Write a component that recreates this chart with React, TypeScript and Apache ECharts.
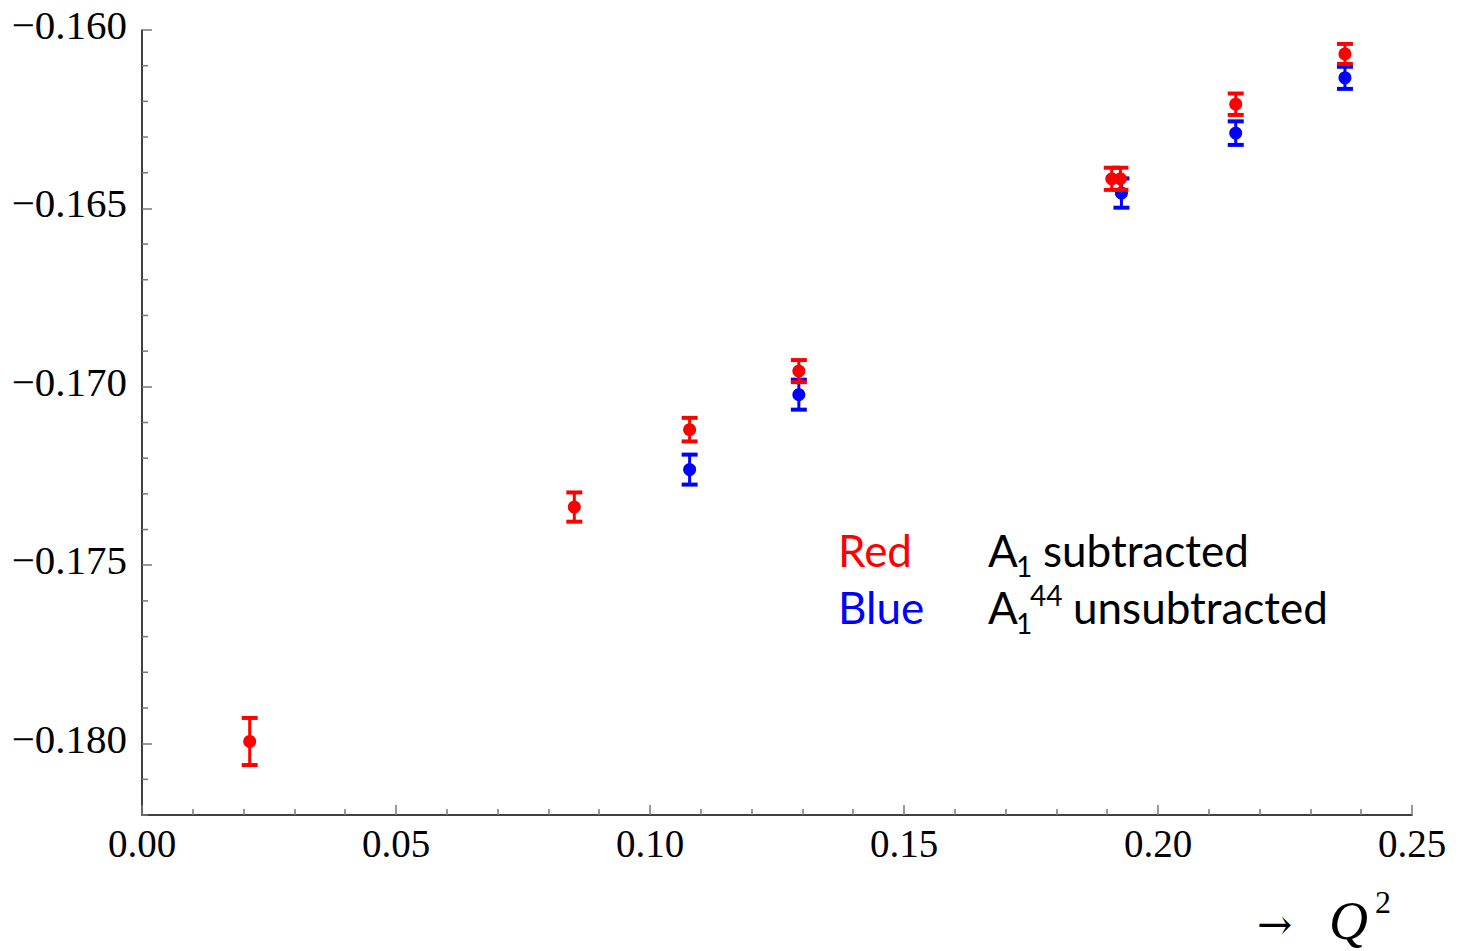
import React, { useEffect, useRef } from "react";
import * as echarts from "echarts";

// Red: A1 subtracted
const redX = [0.0212, 0.0851, 0.1078, 0.1293, 0.1909, 0.1926, 0.2153, 0.2368];
const redY = [-0.17994, -0.17337, -0.1712, -0.16956, -0.16417, -0.16417, -0.16208, -0.16067];
const redErr = [0.00066, 0.00041, 0.00033, 0.00031, 0.00031, 0.00031, 0.0003, 0.00028];

// Blue: A1^44 unsubtracted
const blueX = [0.1078, 0.1293, 0.1928, 0.2153, 0.2368];
const blueY = [-0.17232, -0.17022, -0.16457, -0.16289, -0.16134];
const blueErr = [0.00042, 0.00042, 0.00041, 0.00033, 0.00031];

// Axis ticks
const yMajorTicks = [-0.18, -0.175, -0.17, -0.165, -0.16];
const yMinorTicks = [
  -0.182, -0.181, -0.179, -0.178, -0.177, -0.176, -0.174, -0.173, -0.172, -0.171,
  -0.169, -0.168, -0.167, -0.166, -0.164, -0.163, -0.162, -0.161,
];

const RED = "#ff0000";
const BLUE = "#0000ff";
const SERIF = "'Liberation Serif', 'Times New Roman', serif";
const SANS = "Lato, 'Open Sans', sans-serif";

function errorBarItem(params: any, api: any) {
  const x = api.value(0);
  const y = api.value(1);
  const e = api.value(2);
  const c = api.coord([x, y]);
  const t = api.coord([x, y + e]);
  const b = api.coord([x, y - e]);
  const color = api.visual("color");
  const cap = 8;
  return {
    type: "group",
    children: [
      { type: "line", shape: { x1: c[0], y1: t[1], x2: c[0], y2: b[1] }, style: { stroke: color, lineWidth: 3 } },
      { type: "line", shape: { x1: c[0] - cap, y1: t[1], x2: c[0] + cap, y2: t[1] }, style: { stroke: color, lineWidth: 4 } },
      { type: "line", shape: { x1: c[0] - cap, y1: b[1], x2: c[0] + cap, y2: b[1] }, style: { stroke: color, lineWidth: 4 } },
      { type: "circle", shape: { cx: c[0], cy: c[1], r: 6.5 }, style: { fill: color } },
    ],
  };
}

function minorTickItem(params: any, api: any) {
  const p = api.coord([0, api.value(1)]);
  return {
    type: "line",
    shape: { x1: p[0], y1: p[1], x2: p[0] + 6, y2: p[1] },
    style: { stroke: "#777", lineWidth: 1.5 },
  };
}

export default function App() {
  const ref = useRef<HTMLDivElement>(null);
  useEffect(() => {
    if (!ref.current) return;
    const chart = echarts.init(ref.current, null, { renderer: "svg" });
    const redData = redX.map((x, i) => [x, redY[i], redErr[i]]);
    const blueData = blueX.map((x, i) => [x, blueY[i], blueErr[i]]);
    const minorData = yMinorTicks.map((v) => [0, v]);
    const legendBase = { fontFamily: SANS, fontSize: 44, verticalAlign: "top" };
    const subBase = { fontFamily: SANS, fontSize: 28, fill: "#000" };
    chart.setOption({
      animation: false,
      backgroundColor: "#ffffff",
      grid: { left: 142, right: 46, top: 30, bottom: 136 },
      xAxis: {
        type: "value",
        min: 0,
        max: 0.25,
        interval: 0.05,
        axisLine: { lineStyle: { color: "#000", width: 1.5 } },
        axisTick: { inside: true, length: 10, lineStyle: { color: "#777", width: 1.5 } },
        minorTick: { show: true, splitNumber: 5, length: 6, lineStyle: { color: "#777", width: 1.5 } },
        splitLine: { show: false },
        minorSplitLine: { show: false },
        axisLabel: {
          formatter: (v: number) => v.toFixed(2),
          fontFamily: SERIF,
          fontSize: 39,
          color: "#000",
          margin: 9,
          showMinLabel: true,
          showMaxLabel: true,
        },
      },
      yAxis: {
        type: "value",
        min: -0.182,
        max: -0.16,
        axisLine: { show: true, lineStyle: { color: "#000", width: 1.5 } },
        axisTick: { show: true, inside: true, length: 10, customValues: yMajorTicks, lineStyle: { color: "#777", width: 1.5 } },
        splitLine: { show: false },
        axisLabel: {
          customValues: yMajorTicks,
          formatter: (v: number) => "\u2212" + Math.abs(v).toFixed(3),
          fontFamily: SERIF,
          fontSize: 41,
          color: "#000",
          margin: 15,
          verticalAlign: "bottom",
          lineHeight: 10,
        },
      },
      series: [
        {
          type: "custom",
          name: "yMinorTicks",
          renderItem: minorTickItem,
          data: minorData,
          encode: { x: 0, y: 1 },
          silent: true,
          clip: false,
        },
        {
          type: "custom",
          name: "Blue",
          renderItem: errorBarItem,
          data: blueData,
          encode: { x: 0, y: 1 },
          itemStyle: { color: BLUE },
        },
        {
          type: "custom",
          name: "Red",
          renderItem: errorBarItem,
          data: redData,
          encode: { x: 0, y: 1 },
          itemStyle: { color: RED },
        },
      ],
      graphic: [
        { type: "text", left: 838, top: 528, style: { ...legendBase, text: "Red", fill: RED } },
        { type: "text", left: 838, top: 585, style: { ...legendBase, text: "Blue", fill: BLUE } },
        { type: "text", left: 988, top: 528, style: { ...legendBase, text: "A", fill: "#000" } },
        { type: "text", left: 1016, top: 552, style: { ...subBase, text: "1" } },
        { type: "text", left: 1043, top: 528, style: { ...legendBase, text: "subtracted", fill: "#000" } },
        { type: "text", left: 988, top: 585, style: { ...legendBase, text: "A", fill: "#000" } },
        { type: "text", left: 1016, top: 609, style: { ...subBase, text: "1" } },
        { type: "text", left: 1030, top: 581, style: { ...subBase, text: "44" } },
        { type: "text", left: 1073, top: 585, style: { ...legendBase, text: "unsubtracted", fill: "#000" } },
        { type: "text", x: 1257, y: 924, style: { fontFamily: "'DejaVu Serif', serif", fontSize: 42, lineHeight: 30, verticalAlign: "middle", text: "\u2192", fill: "#000" } },
        { type: "text", left: 1329, top: 894, style: { fontFamily: SERIF, fontSize: 54, fontStyle: "italic", text: "Q", fill: "#000" } },
        { type: "text", left: 1375, top: 886, style: { fontFamily: SERIF, fontSize: 32, text: "2", fill: "#000" } },
      ],
    });
    return () => chart.dispose();
  }, []);
  return <div ref={ref} style={{ position: "absolute", left: 0, top: 0, width: 1458, height: 951 }} />;
}
